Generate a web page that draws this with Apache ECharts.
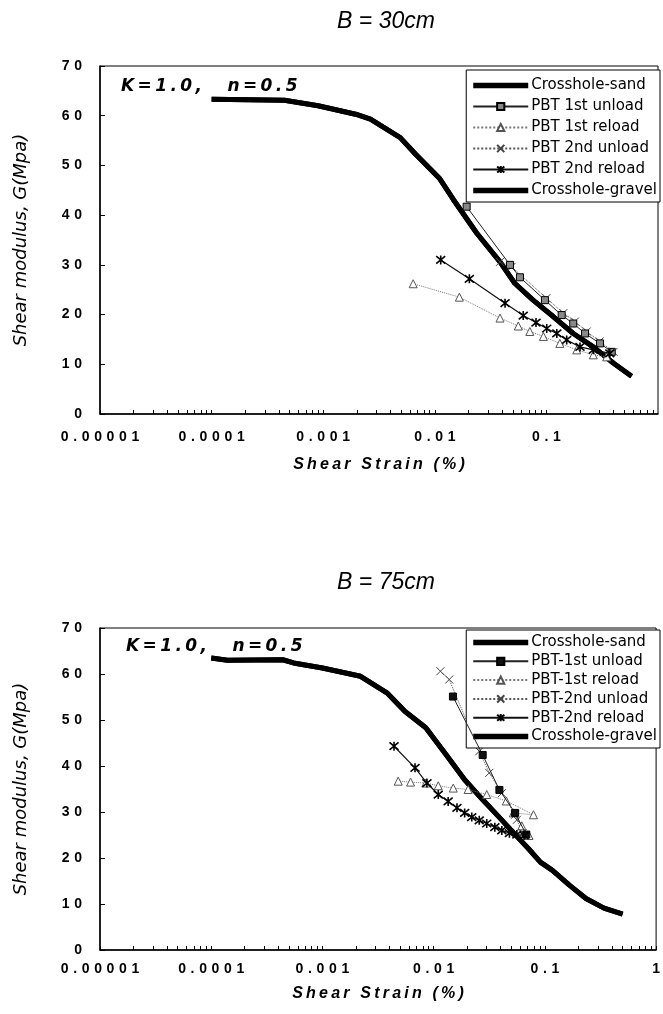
<!DOCTYPE html>
<html>
<head>
<meta charset="utf-8">
<script src="https://cdn.jsdelivr.net/npm/echarts@6/dist/echarts.min.js"></script>
<style>
html,body{margin:0;padding:0;background:#fff;}
#chart{width:663px;height:1014px;}
</style>
</head>
<body>
<div id="chart"></div>
<script>
// ---------- data ----------
var xTickLabels = ['0.00001', '0.0001', '0.001', '0.01', '0.1', '1'];
var yTickLabels = [0, 10, 20, 30, 40, 50, 60, 70];
var decades = [0.00001, 0.0001, 0.001, 0.01, 0.1];
var minorMultipliers = [1, 2, 3, 4, 5, 6, 7, 8, 9];

var namesTop = ['Crosshole-sand', 'PBT 1st unload', 'PBT 1st reload', 'PBT 2nd unload', 'PBT 2nd reload', 'Crosshole-gravel'];
var namesBot = ['Crosshole-sand', 'PBT-1st unload', 'PBT-1st reload', 'PBT-2nd unload', 'PBT-2nd reload', 'Crosshole-gravel'];

// --- B = 30cm ---
var topSandX = [0.0001, 0.00045, 0.0009, 0.00195, 0.00265, 0.0049, 0.0067, 0.0111, 0.0147, 0.0237, 0.0384, 0.052, 0.076, 0.115, 0.174, 0.263, 0.40, 0.58];
var topSandG = [63.3, 63.1, 62.0, 60.3, 59.3, 55.6, 52.3, 47.3, 43.1, 36.4, 30.6, 26.3, 22.9, 19.6, 16.2, 13.5, 10.2, 7.6];
var topGravelX = [0.0001, 0.00045, 0.0009, 0.00195, 0.00265, 0.0049, 0.0067, 0.0111, 0.0147, 0.0237, 0.0384, 0.052, 0.076, 0.115, 0.174, 0.263, 0.40, 0.58];
var topGravelG = [63.3, 63.1, 62.0, 60.3, 59.3, 55.6, 52.3, 47.3, 43.1, 36.4, 30.6, 26.3, 22.9, 19.6, 16.2, 13.5, 10.2, 7.6];
var top1UnX = [0.0193, 0.0472, 0.058, 0.097, 0.137, 0.174, 0.222, 0.302, 0.385];
var top1UnG = [41.7, 30.0, 27.5, 22.9, 19.9, 18.2, 16.2, 14.2, 12.5];
var top1ReX = [0.0064, 0.0166, 0.0384, 0.056, 0.071, 0.094, 0.132, 0.187, 0.263, 0.347];
var top1ReG = [26.2, 23.5, 19.3, 17.7, 16.6, 15.6, 14.2, 12.9, 11.9, 11.5];
var top2UnX = [0.0384, 0.0488, 0.100, 0.142, 0.180, 0.230, 0.300, 0.400];
var top2UnG = [30.6, 29.6, 23.3, 20.3, 18.6, 16.6, 14.6, 12.5];
var top2ReX = [0.0113, 0.0204, 0.0426, 0.062, 0.0807, 0.1007, 0.124, 0.152, 0.200, 0.263, 0.370];
var top2ReG = [31.0, 27.2, 22.3, 19.8, 18.4, 17.2, 16.2, 14.9, 13.5, 12.9, 12.2];

// --- B = 75cm ---
var botSandX = [0.0001, 0.00014, 0.00044, 0.00055, 0.001, 0.0022, 0.0038, 0.0055, 0.0085, 0.0129, 0.019, 0.0275, 0.038, 0.056, 0.072, 0.091, 0.117, 0.166, 0.234, 0.34, 0.5];
var botSandG = [63.5, 63.0, 63.1, 62.4, 61.3, 59.5, 55.9, 51.9, 48.3, 42.5, 37.0, 32.7, 29.1, 24.7, 21.9, 19.1, 17.3, 14.1, 11.2, 9.1, 7.8];
var botGravelX = [0.0001, 0.00014, 0.00044, 0.00055, 0.001, 0.0022, 0.0038, 0.0055, 0.0085, 0.0129, 0.019, 0.0275, 0.038, 0.056, 0.072, 0.091, 0.117, 0.166, 0.234, 0.34, 0.5];
var botGravelG = [63.5, 63.0, 63.1, 62.4, 61.3, 59.5, 55.9, 51.9, 48.3, 42.5, 37.0, 32.7, 29.1, 24.7, 21.9, 19.1, 17.3, 14.1, 11.2, 9.1, 7.8];
var bot1UnX = [0.0149, 0.0276, 0.039, 0.054, 0.068];
var bot1UnG = [55.1, 42.4, 34.8, 29.8, 25.1];
var bot1ReX = [0.0048, 0.0062, 0.0085, 0.011, 0.015, 0.0204, 0.030, 0.045, 0.079, 0.052, 0.062, 0.072];
var bot1ReG = [36.7, 36.5, 36.3, 35.7, 35.2, 34.9, 33.8, 32.4, 29.4, 29.8, 27.0, 24.9];
var bot2UnX = [0.0115, 0.0138, 0.0257, 0.0316, 0.041, 0.054, 0.056, 0.063];
var bot2UnG = [60.6, 58.8, 43.2, 38.5, 34.1, 29.4, 28.3, 25.4];
var bot2ReX = [0.0044, 0.0068, 0.0087, 0.011, 0.0135, 0.0162, 0.019, 0.022, 0.0257, 0.030, 0.0355, 0.041, 0.048, 0.056, 0.065];
var bot2ReG = [44.3, 39.6, 36.3, 33.8, 32.3, 30.9, 29.8, 28.9, 28.2, 27.5, 26.7, 26.0, 25.4, 25.1, 24.9];

// ---------- helpers ----------
function pairs(xs, ys) { return xs.map(function (x, i) { return [x, ys[i]]; }); }
function spaced(s, ch) { return String(s).split('').join(ch); }
var tickVals = [];
decades.forEach(function (d) { minorMultipliers.forEach(function (m) { tickVals.push(d * m); }); });
tickVals.push(1);

var FONT = '"Liberation Sans", Arial, sans-serif';
var WIDE = '"DejaVu Sans", sans-serif';
var SYM_X = 'path://M0,0L10,10M10,0L0,10';
var SYM_AST = 'path://M0,0L10,10M10,0L0,10M5,-1L5,11';
var THICK_ICON = 'path://M0,0H60V6H0Z';

function xAxisDef(gridIndex, hideLast, labelMargin, nameGap) {
  return {
    type: 'log', logBase: 10, gridIndex: gridIndex, min: 0.00001, max: 1,
    name: spaced('Shear Strain (%)', '\u2009'), nameLocation: 'middle', nameGap: nameGap,
    nameTextStyle: { fontFamily: FONT, fontSize: 16, fontWeight: 'bold', fontStyle: 'italic', color: '#000' },
    axisLine: { show: true, lineStyle: { color: '#000', width: 1.5 } },
    axisTick: { show: true, inside: true, length: 4, customValues: tickVals, lineStyle: { color: '#000', width: 1 } },
    splitLine: { show: false },
    axisLabel: {
      margin: labelMargin, color: '#000', fontFamily: FONT, fontSize: 14, fontWeight: 'bold',
      showMinLabel: true, showMaxLabel: !hideLast,
      formatter: function (v) {
        var i = Math.round(Math.log(v) / Math.LN10) + 5;
        if (hideLast && i === 5) return '';
        return spaced(xTickLabels[i], '\u2004');
      }
    }
  };
}
function yAxisDef(gridIndex) {
  return {
    type: 'value', gridIndex: gridIndex, min: 0, max: 70, interval: 10,
    name: 'Shear modulus, G(Mpa)', nameLocation: 'middle', nameGap: 70, nameRotate: 90,
    nameTextStyle: { fontFamily: WIDE, fontSize: 18, fontStyle: 'italic', color: '#000' },
    axisLine: { show: true, lineStyle: { color: '#000', width: 1.5 } },
    axisTick: { show: true, inside: true, length: 5, lineStyle: { color: '#000' } },
    splitLine: { show: false },
    axisLabel: {
      margin: 18, color: '#000', fontFamily: FONT, fontSize: 14, fontWeight: 'bold',
      formatter: function (v) { return yTickLabels.indexOf(v) >= 0 ? spaced(v, '\u2004') : ''; }
    }
  };
}

function seriesSet(idx, names, sand, un1, re1, un2, re2, gravel, unFill) {
  return [
    { name: names[0], type: 'line', xAxisIndex: idx, yAxisIndex: idx, data: sand, symbol: 'none',
      lineStyle: { color: '#000', width: 5 }, itemStyle: { color: '#000' }, z: 2 },
    { name: names[1], type: 'line', xAxisIndex: idx, yAxisIndex: idx, data: un1, symbol: 'rect', symbolSize: 7,
      lineStyle: { color: '#222', width: 1 }, itemStyle: { color: unFill, borderColor: '#000', borderWidth: 1 }, z: 4 },
    { name: names[2], type: 'line', xAxisIndex: idx, yAxisIndex: idx, data: re1, symbol: 'triangle', symbolSize: 8,
      lineStyle: { color: '#777', width: 1, type: 'dotted' }, itemStyle: { color: '#fff', borderColor: '#555', borderWidth: 1 }, z: 3 },
    { name: names[3], type: 'line', xAxisIndex: idx, yAxisIndex: idx, data: un2, symbol: SYM_X, symbolSize: 8,
      lineStyle: { color: '#555', width: 1, type: 'dotted' }, itemStyle: { color: '#555', borderColor: '#444', borderWidth: 1 }, z: 3 },
    { name: names[4], type: 'line', xAxisIndex: idx, yAxisIndex: idx, data: re2, symbol: SYM_AST, symbolSize: 9,
      lineStyle: { color: '#111', width: 1.2 }, itemStyle: { color: '#000', borderColor: '#000', borderWidth: 1.6 }, z: 4 },
    { name: names[5], type: 'line', xAxisIndex: idx, yAxisIndex: idx, data: gravel, symbol: 'none',
      lineStyle: { color: '#000', width: 5 }, itemStyle: { color: '#000' }, z: 2 }
  ];
}

function legendDef(names, top, gap, padding) {
  var data = names.map(function (n, i) {
    if (i === 0 || i === 5) return { name: n, icon: THICK_ICON, itemStyle: { color: '#000' } };
    return { name: n };
  });
  return {
    data: data, orient: 'vertical', right: 3, top: top,
    itemWidth: 55, itemHeight: 9, itemGap: gap, symbolKeepAspect: true,
    backgroundColor: '#fff', borderColor: '#000', borderWidth: 1, borderRadius: 0,
    padding: padding, selectedMode: false,
    textStyle: { fontFamily: WIDE, fontSize: 15, color: '#000', padding: [0, 0, 0, -2] }
  };
}

var annot = spaced('K=1.0,', '\u2009') + '\u2003\u2002' + spaced('n=0.5', '\u2009');

var chart = echarts.init(document.getElementById('chart'), null, { renderer: 'canvas' });
chart.setOption({
  animation: false,
  backgroundColor: '#fff',
  grid: [
    { left: 100, top: 66, width: 558, height: 348, show: true, borderColor: '#000', borderWidth: 1, containLabel: false },
    { left: 100, top: 628, width: 557, height: 322, show: true, borderColor: '#000', borderWidth: 1, containLabel: false }
  ],
  xAxis: [xAxisDef(0, true, 16, 43), xAxisDef(1, false, 12, 36)],
  yAxis: [yAxisDef(0), yAxisDef(1)],
  legend: [legendDef(namesTop, 70, 6, [8, 3, 4, 6]), legendDef(namesBot, 630, 3.8, [5, 3, 4, 6])],
  series: [].concat(
    seriesSet(0, namesTop, pairs(topSandX, topSandG), pairs(top1UnX, top1UnG), pairs(top1ReX, top1ReG),
      pairs(top2UnX, top2UnG), pairs(top2ReX, top2ReG), pairs(topGravelX, topGravelG), '#888'),
    seriesSet(1, namesBot, pairs(botSandX, botSandG), pairs(bot1UnX, bot1UnG), pairs(bot1ReX, bot1ReG),
      pairs(bot2UnX, bot2UnG), pairs(bot2ReX, bot2ReG), pairs(botGravelX, botGravelG), '#111')
  ),
  graphic: [
    { type: 'text', x: 386, y: 22, style: { text: 'B = 30cm', font: 'italic 23px ' + FONT, fill: '#000', textAlign: 'center', textVerticalAlign: 'middle' } },
    { type: 'text', x: 386, y: 583, style: { text: 'B = 75cm', font: 'italic 23px ' + FONT, fill: '#000', textAlign: 'center', textVerticalAlign: 'middle' } },
    { type: 'text', x: 121, y: 87, z: 10, style: { text: annot, font: 'italic bold 17px ' + WIDE, fill: '#000', textVerticalAlign: 'middle' } },
    { type: 'text', x: 126, y: 647, z: 10, style: { text: annot, font: 'italic bold 17px ' + WIDE, fill: '#000', textVerticalAlign: 'middle' } }
  ]
});
</script>
</body>
</html>
